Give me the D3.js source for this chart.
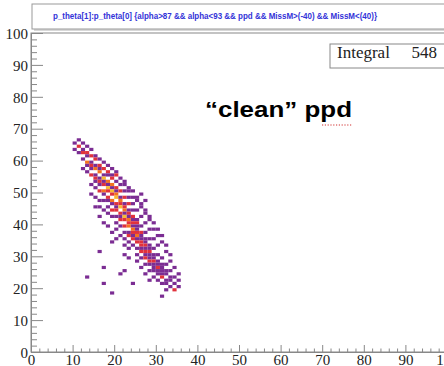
<!DOCTYPE html>
<html><head><meta charset="utf-8">
<script src="https://cdn.jsdelivr.net/npm/d3@7"></script>
<style>html,body{margin:0;padding:0;background:#fff;overflow:hidden}</style>
</head><body>
<svg id="c" width="444" height="366"></svg>
<script>
const titleText = "p_theta[1]:p_theta[0] {alpha>87 && alpha<93 && ppd && MissM>(-40) && MissM<(40)}";
const statsLabel = "Integral";
const statsValue = "548";
const annotation = "\u201Cclean\u201D ppd";
const xTicks = [0,10,20,30,40,50,60,70,80,90,100];
const yTicks = [0,10,20,30,40,50,60,70,80,90,100];
const countColors = ["#7b2d93","#e0323c","#f4731f","#f8b932"];
// [x bin, y bin, entries]
const binCells = [
[10,65,1],[10,63,1],
[11,66,1],[11,64,2],[11,62,1],
[12,65,1],[12,63,1],[12,62,2],[12,60,1],[12,57,1],
[13,64,1],[13,62,2],[13,61,1],[13,59,3],[13,58,1],[13,56,1],[13,23,1],
[14,63,1],[14,61,2],[14,59,1],[14,58,2],[14,57,1],[14,55,2],[14,52,1],[14,49,1],
[15,61,1],[15,60,2],[15,58,1],[15,57,3],[15,55,1],[15,54,2],[15,53,1],[15,51,1],[15,48,1],[15,45,1],
[16,60,1],[16,58,2],[16,57,1],[16,56,3],[16,54,1],[16,53,2],[16,52,1],[16,50,2],[16,47,1],[16,45,1],[16,42,1],[16,31,1],
[17,59,1],[17,57,2],[17,55,1],[17,54,4],[17,53,1],[17,52,2],[17,50,3],[17,49,1],[17,47,1],[17,44,1],[17,40,1],[17,26,1],[17,21,1],
[18,58,1],[18,56,2],[18,55,1],[18,53,3],[18,52,1],[18,51,4],[18,50,2],[18,48,2],[18,47,1],[18,45,1],[18,43,1],[18,39,1],
[19,57,1],[19,55,1],[19,54,2],[19,52,3],[19,51,1],[19,50,4],[19,49,2],[19,47,3],[19,46,1],[19,44,2],[19,42,1],[19,37,1],[19,34,1],[19,18,1],
[20,56,1],[20,55,2],[20,53,1],[20,51,2],[20,50,1],[20,49,3],[20,48,4],[20,46,2],[20,45,1],[20,44,2],[20,42,1],[20,40,1],[20,38,1],[20,35,1],
[21,54,1],[21,52,1],[21,50,2],[21,48,1],[21,47,3],[21,46,2],[21,45,4],[21,43,2],[21,42,1],[21,41,2],[21,39,1],[21,36,1],[21,24,1],
[22,53,1],[22,52,1],[22,50,1],[22,48,2],[22,46,1],[22,45,2],[22,44,3],[22,43,1],[22,42,4],[22,41,2],[22,39,2],[22,37,1],[22,35,1],[22,33,1],[22,30,1],[22,25,1],
[23,51,1],[23,50,1],[23,48,1],[23,46,2],[23,44,1],[23,43,2],[23,42,1],[23,41,3],[23,40,2],[23,39,3],[23,37,1],[23,36,2],[23,34,1],[23,32,1],[23,29,1],
[24,50,1],[24,48,1],[24,46,1],[24,44,1],[24,42,2],[24,41,1],[24,40,2],[24,39,1],[24,38,3],[24,37,2],[24,36,1],[24,35,2],[24,33,1],[24,21,1],
[25,48,1],[25,47,1],[25,44,1],[25,41,1],[25,40,2],[25,39,1],[25,38,1],[25,37,2],[25,36,3],[25,35,1],[25,34,2],[25,32,1],[25,30,1],[25,28,1],
[26,49,1],[26,46,1],[26,45,1],[26,42,1],[26,39,1],[26,37,2],[26,36,1],[26,35,1],[26,34,2],[26,33,2],[26,32,1],[26,31,2],[26,29,1],[26,26,1],
[27,47,1],[27,44,1],[27,43,1],[27,40,1],[27,37,1],[27,35,1],[27,34,1],[27,33,2],[27,32,1],[27,31,2],[27,30,1],[27,29,2],[27,27,1],[27,24,1],
[28,42,1],[28,41,1],[28,38,1],[28,35,1],[28,33,1],[28,32,1],[28,31,2],[28,30,1],[28,29,1],[28,28,2],[28,27,1],[28,25,1],[28,22,1],
[29,40,1],[29,38,1],[29,35,1],[29,32,1],[29,30,1],[29,29,1],[29,28,2],[29,27,1],[29,26,1],[29,25,1],[29,23,1],
[30,38,1],[30,36,1],[30,33,1],[30,30,1],[30,28,1],[30,27,1],[30,26,2],[30,25,1],[30,24,1],[30,22,1],
[31,36,1],[31,34,1],[31,29,1],[31,27,1],[31,26,1],[31,25,1],[31,24,1],[31,23,2],[31,21,1],[31,17,1],
[32,33,1],[32,31,1],[32,27,1],[32,25,1],[32,24,1],[32,22,1],[32,21,1],[32,19,1],
[33,30,1],[33,28,1],[33,25,1],[33,23,1],[33,22,1],[33,20,1],
[34,26,1],[34,23,1],[34,21,1],[34,19,2],
[35,24,1],[35,22,1],[35,20,1]
];

const svg = d3.select("#c");
const x = d3.scaleLinear().domain([0,100]).range([31,447]);
const y = d3.scaleLinear().domain([0,100]).range([352,33]);
const color = c => countColors[Math.min(c, countColors.length) - 1];

// title box
svg.append("rect").attr("x",34).attr("y",6).attr("width",420).attr("height",25).attr("fill","#d8d8d8");
svg.append("rect").attr("x",32).attr("y",4).attr("width",420).attr("height",25)
  .attr("fill","#fff").attr("stroke","#999").attr("stroke-width",1);
svg.append("text").attr("x",53).attr("y",19).attr("textLength",324).attr("lengthAdjust","spacingAndGlyphs")
  .attr("font-family","Liberation Sans Narrow, Liberation Sans, Arial, sans-serif").attr("font-weight","bold").attr("font-size",9.5)
  .attr("fill","#3232d8").text(titleText);

// cells
const bw = x(1) - x(0), bh = y(0) - y(1);
svg.append("g").selectAll("rect").data(binCells).join("rect")
  .attr("x", d => x(d[0])).attr("y", d => y(d[1] + 1))
  .attr("width", bw).attr("height", bh)
  .attr("fill", d => color(d[2]));

// frame
svg.append("rect").attr("x",x(0)).attr("y",y(100)).attr("width",x(100)-x(0)).attr("height",y(0)-y(100))
  .attr("fill","none").attr("stroke","#888").attr("stroke-width",1);

// axes
const minorX = d3.range(0,101,2).filter(v => v % 10 !== 0);
const minorY = minorX;
const axX = svg.append("g").attr("transform",`translate(0,${y(0)})`)
  .call(d3.axisBottom(x).tickValues(xTicks).tickSizeInner(-7).tickSizeOuter(0).tickFormat(d3.format("d")));
const axXm = svg.append("g").attr("transform",`translate(0,${y(0)})`)
  .call(d3.axisBottom(x).tickValues(minorX).tickSizeInner(-3.5).tickSizeOuter(0).tickFormat(""));
const axY = svg.append("g").attr("transform",`translate(${x(0)},0)`)
  .call(d3.axisLeft(y).tickValues(yTicks).tickSizeInner(-12).tickSizeOuter(0).tickFormat(d3.format("d")));
const axYm = svg.append("g").attr("transform",`translate(${x(0)},0)`)
  .call(d3.axisLeft(y).tickValues(minorY).tickSizeInner(-6).tickSizeOuter(0).tickFormat(""));
[axX,axXm,axY,axYm].forEach(a => {
  a.select(".domain").attr("stroke","#888");
  a.selectAll(".tick line").attr("stroke","#888");
  a.selectAll("text").attr("font-family","Liberation Serif, Times New Roman, serif").attr("font-size",15).attr("fill","#222");
});
axX.selectAll("text").attr("dy",null).attr("y",12.5);
axY.selectAll("text").attr("dy","0.35em").attr("x",-3);

// stats box
svg.append("rect").attr("x",330).attr("y",44).attr("width",130).attr("height",24)
  .attr("fill","#fff").attr("stroke","#888");
svg.append("text").attr("x",337).attr("y",57.5).attr("font-family","Liberation Serif, Times New Roman, serif")
  .attr("font-size",17).attr("fill","#222").text(statsLabel);
svg.append("text").attr("x",437).attr("y",57.5).attr("text-anchor","end").attr("font-family","Liberation Serif, Times New Roman, serif")
  .attr("font-size",17).attr("fill","#222").text(statsValue);

// annotation
svg.append("text").attr("x",205).attr("y",117).attr("textLength",147).attr("lengthAdjust","spacingAndGlyphs")
  .attr("font-family","Liberation Sans, Arial, Helvetica, sans-serif")
  .attr("font-weight","bold").attr("font-size",22).attr("fill","#000").text(annotation);
svg.append("line").attr("x1",322).attr("x2",352).attr("y1",125).attr("y2",125)
  .attr("stroke","#d03030").attr("stroke-width",1.2).attr("stroke-dasharray","1.2,1.6");
</script>
</body></html>
